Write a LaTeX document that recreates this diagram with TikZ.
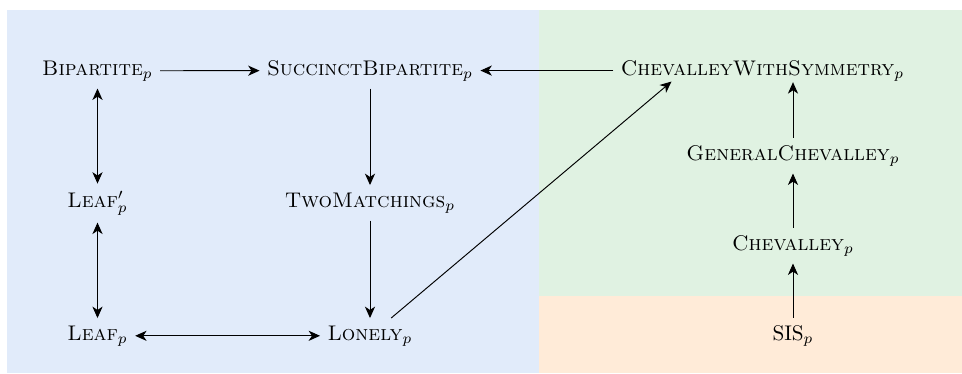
\documentclass[tikz,border=0pt]{standalone}
\usetikzlibrary{arrows.meta,calc}
\definecolor{bgblue}{RGB}{225,235,250}
\definecolor{bggreen}{RGB}{224,242,226}
\definecolor{bgorange}{RGB}{255,235,216}
\begin{document}
\begin{tikzpicture}[x=0.472pt,y=-0.472pt,
  lbl/.style={anchor=base,inner sep=3.33pt},
  tip/.style={Stealth[length=5.4pt,width=4.8pt,inset=1.6pt]},
  arr/.style={-{Stealth[length=5.4pt,width=4.8pt,inset=1.6pt]},line width=0.45pt},
  darr/.style={{Stealth[length=5.4pt,width=4.8pt,inset=1.6pt]}-{Stealth[length=5.4pt,width=4.8pt,inset=1.6pt]},line width=0.45pt}]
\useasboundingbox (0,0) rectangle (962,373);
\fill[bgblue] (7,10) rectangle (539,373);
\fill[bggreen] (539,10) rectangle (962,296);
\fill[bgorange] (539,296) rectangle (962,373);
% nodes
\node[lbl] (bip) at (97.5,75) {\textsc{Bipartite}$_p$};
\node[lbl] (sb) at (370,75) {\textsc{SuccinctBipartite}$_p$};
\node[lbl] (cws) at (762.5,75) {\textsc{ChevalleyWithSymmetry}$_p$};
\node[lbl] (lp) at (97.5,207) {\textsc{Leaf}$'_p$};
\node[lbl] (tm) at (370,207) {\textsc{TwoMatchings}$_p$};
\node[lbl] (gc) at (793,160) {\textsc{GeneralChevalley}$_p$};
\node[lbl] (ch) at (793,250) {\textsc{Chevalley}$_p$};
\node[lbl] (leaf) at (97.5,340) {\textsc{Leaf}$_p$};
\node[lbl] (lon) at (370,340) {\textsc{Lonely}$_p$};
\node[lbl] (sis) at (793,340) {SIS$_p$};
% connectors
\draw[arr] (bip) -- (sb);
\draw[arr] (cws) -- (sb);
\draw[darr] (bip) -- (lp);
\draw[darr] (lp) -- (leaf);
\draw[darr] (leaf) -- (lon);
\draw[arr] (sb) -- (tm);
\draw[arr] (tm) -- (lon);
\draw[arr] (lon.40) -- ([shift={(-91,-7)}]cws.south);
\draw[arr] (sis) -- (ch);
\draw[arr] (ch) -- (gc);
\draw[arr] (gc) -- ([yshift=3pt]gc |- cws.south);
\end{tikzpicture}
\end{document}
